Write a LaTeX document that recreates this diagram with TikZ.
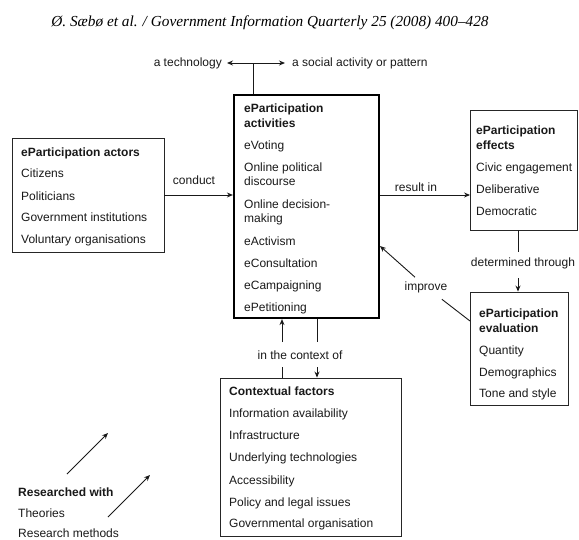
\documentclass[tikz,border=0pt]{standalone}
\usepackage{fontspec}
\setmainfont{Liberation Sans}
\newfontfamily\hdrfont{Liberation Serif}
\usetikzlibrary{arrows.meta}
\tikzset{
  box/.style={draw=black!85, line width=0.9pt, inner sep=0pt},
  thickbox/.style={draw=black, line width=2.2pt, inner sep=0pt},
  txt/.style={anchor=base west, inner sep=0pt, font=\fontsize{12}{14}\selectfont, text=black!90},
  btxt/.style={txt, font=\fontsize{12}{14}\selectfont\bfseries},
  lbl/.style={inner sep=0pt, font=\fontsize{12}{14}\selectfont, text=black!90},
  conn/.style={draw=black!90, line width=0.9pt},
  arr/.style={conn, -{Stealth[length=6pt,width=5pt]}},
}
\begin{document}
\begin{tikzpicture}[x=1pt,y=-1pt]
\useasboundingbox (0,0) rectangle (579,539);

% header
\node[inner sep=0pt, font=\hdrfont\itshape\fontsize{15.3}{17}\selectfont] (hdr) at (270,23) {Ø. Sæbø et al. / Government Information Quarterly 25 (2008) 400–428};

% top labels
\node[lbl, anchor=east] (tech) at (222,63) {a technology};
\node[lbl, anchor=west] (social) at (292,63) {a social activity or pattern};
\coordinate (jn) at (253,63);

% boxes
\node[box, minimum width=152pt, minimum height=114pt] (actors) at (88,195) {};
\node[thickbox, minimum width=145pt, minimum height=223pt] (act) at (306.5,206.5) {};
\node[box, minimum width=107pt, minimum height=120pt] (eff) at (524,170) {};
\node[box, minimum width=98pt, minimum height=113pt] (eval) at (519,348.5) {};
\node[box, minimum width=181pt, minimum height=158pt] (ctx) at (310.5,457) {};

% actors text
\node[btxt] (a0) at (21,156) {eParticipation actors};
\node[txt] (a1) at (21,177) {Citizens};
\node[txt] (a2) at (21,200) {Politicians};
\node[txt] (a3) at (21,221) {Government institutions};
\node[txt] (a4) at (21,243) {Voluntary organisations};

% activities text
\node[btxt] (b0) at (244,112) {eParticipation};
\node[btxt] (b0b) at (244,127) {activities};
\node[txt] (b1) at (244,149) {eVoting};
\node[txt] (b2) at (244,171) {Online political};
\node[txt] (b2b) at (244,185) {discourse};
\node[txt] (b3) at (244,208) {Online decision-};
\node[txt] (b3b) at (244,222) {making};
\node[txt] (b4) at (244,245) {eActivism};
\node[txt] (b5) at (244,267) {eConsultation};
\node[txt] (b6) at (244,289) {eCampaigning};
\node[txt] (b7) at (244,311) {ePetitioning};

% effects text
\node[btxt] (c0) at (476,134) {eParticipation};
\node[btxt] (c0b) at (476,149) {effects};
\node[txt] (c1) at (476,171) {Civic engagement};
\node[txt] (c2) at (476,193) {Deliberative};
\node[txt] (c3) at (476,215) {Democratic};

% evaluation text
\node[btxt] (d0) at (479,317) {eParticipation};
\node[btxt] (d0b) at (479,332) {evaluation};
\node[txt] (d1) at (479,354) {Quantity};
\node[txt] (d2) at (479,376) {Demographics};
\node[txt] (d3) at (479,397) {Tone and style};

% context text
\node[btxt] (e0) at (229,395) {Contextual factors};
\node[txt] (e1) at (229,417) {Information availability};
\node[txt] (e2) at (229,439) {Infrastructure};
\node[txt] (e3) at (229,461) {Underlying technologies};
\node[txt] (e4) at (229,484) {Accessibility};
\node[txt] (e5) at (229,506) {Policy and legal issues};
\node[txt] (e6) at (229,527) {Governmental organisation};

% researched with
\node[btxt] (r0) at (18,496) {Researched with};
\node[txt] (r1) at (18,517) {Theories};
\node[txt] (r2) at (18,537.5) {Research methods};

% connector labels
\node[lbl] (lconduct) at (194,180) {conduct};
\node[lbl] (lresult) at (416,187) {result in};
\node[lbl] (ldet) at (523,263) {determined through};
\node[lbl, inner sep=4pt] (limp) at (426,287) {improve};
\node[lbl] (lctx) at (300,355) {in the context of};

% top connectors
\draw[conn] (jn) -- (jn |- act.north);
\draw[arr, shorten >=5pt] (jn) -- (tech.east);
\draw[arr, shorten >=7pt] (jn) -- (social.west);

% conduct / result in
\draw[arr] (actors.east) -- (act.west |- actors.east);
\draw[arr] (act.east |- actors.east) -- (eff.west |- actors.east);

% determined through
\coordinate (dA) at (518,252);
\coordinate (dB) at (518,278);
\draw[conn] (eff.south -| dA) -- (dA);
\draw[arr] (dB) -- (eval.north -| dB);

% improve
\coordinate (iA) at (470,321);
\coordinate (iB) at (380,246);
\draw[conn, shorten <=4pt] (limp) -- (iA);
\draw[arr] (limp) -- (iB);

% context
\coordinate (kA) at (282,342);
\coordinate (kA2) at (282,367);
\coordinate (kB) at (317,342);
\coordinate (kB2) at (317,367);
\draw[arr] (kA) -- (act.south -| kA);
\draw[conn] (ctx.north -| kA2) -- (kA2);
\draw[conn] (act.south -| kB) -- (kB);
\draw[arr] (kB2) -- (ctx.north -| kB2);

% researched arrows
\coordinate (rA1) at (67,474);
\coordinate (rA2) at (108,433);
\coordinate (rB1) at (108,517);
\coordinate (rB2) at (150,475);
\draw[arr] (rA1) -- (rA2);
\draw[arr] (rB1) -- (rB2);
\end{tikzpicture}
\end{document}
